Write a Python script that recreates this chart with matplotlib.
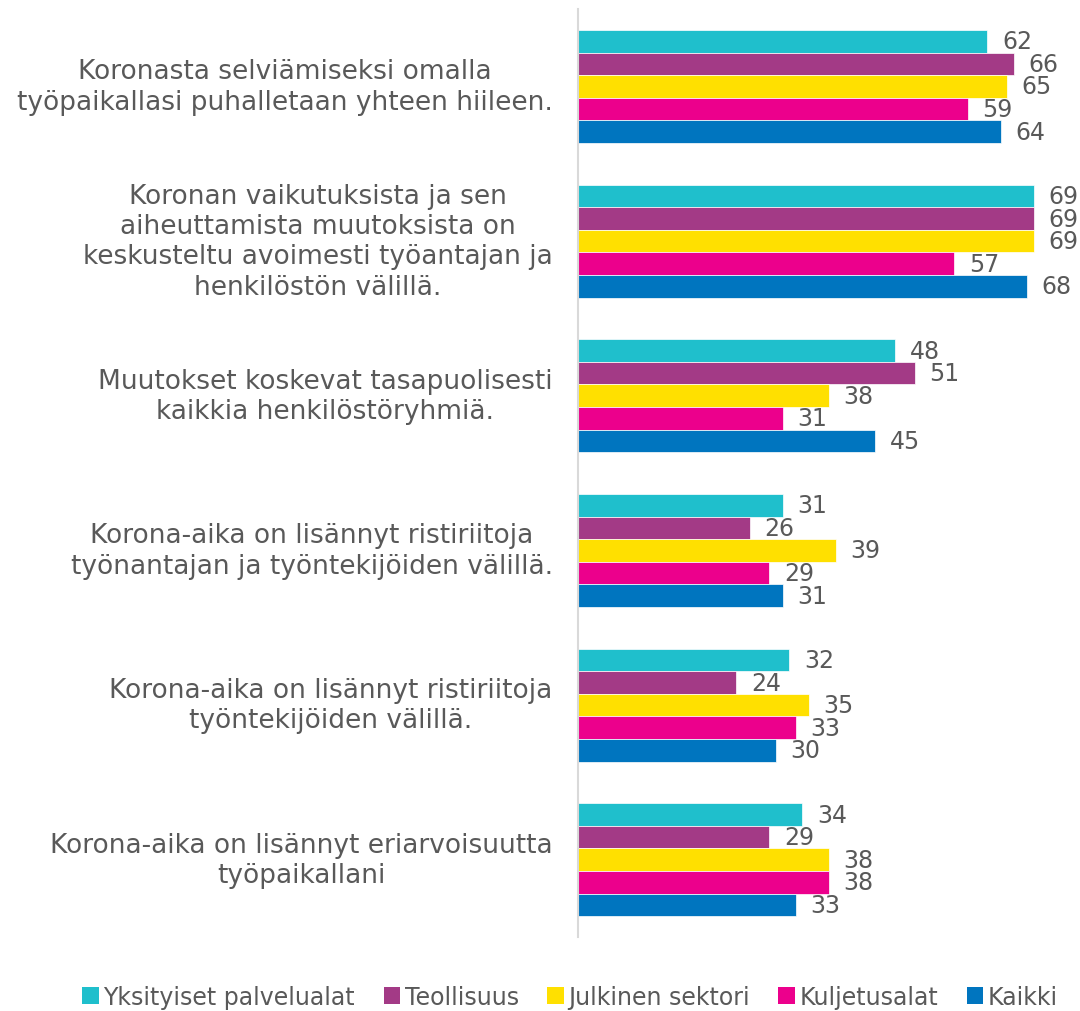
import numpy as np
import matplotlib
matplotlib.use("Agg")
import matplotlib.pyplot as plt
from matplotlib.patches import Patch

categories = [
    "Koronasta selviämiseksi omalla\ntyöpaikallasi puhalletaan yhteen hiileen.",
    "Koronan vaikutuksista ja sen\naiheuttamista muutoksista on\nkeskusteltu avoimesti työantajan ja\nhenkilöstön välillä.",
    "Muutokset koskevat tasapuolisesti\nkaikkia henkilöstöryhmiä.",
    "Korona-aika on lisännyt ristiriitoja\ntyönantajan ja työntekijöiden välillä.",
    "Korona-aika on lisännyt ristiriitoja\ntyöntekijöiden välillä.",
    "Korona-aika on lisännyt eriarvoisuutta\ntyöpaikallani",
]
series = ["Yksityiset palvelualat", "Teollisuus", "Julkinen sektori", "Kuljetusalat", "Kaikki"]
yksityiset = [62, 69, 48, 31, 32, 34]
teollisuus = [66, 69, 51, 26, 24, 29]
julkinen = [65, 69, 38, 39, 35, 38]
kuljetus = [59, 57, 31, 29, 33, 38]
kaikki = [64, 68, 45, 31, 30, 33]
values = [yksityiset, teollisuus, julkinen, kuljetus, kaikki]
colors = ["#1FBFCC", "#A33A86", "#FFE000", "#EC008C", "#0075BF"]

text_color = "#595959"
plt.rcParams["font.family"] = ["DejaVu Sans"]

fig = plt.figure(figsize=(10.8, 10.12), dpi=100)
ax = fig.add_axes([0.535, 0.073, 0.465, 0.917])

n = len(categories)
bar_h = 0.146
y_centers = np.arange(n)
for i, (vals, col) in enumerate(zip(values, colors)):
    ys = y_centers + (i - 2) * bar_h
    ax.barh(ys, vals, height=bar_h, color=col, edgecolor="white", linewidth=0.5)
    for y, v in zip(ys, vals):
        ax.text(v + 2.2, y, str(v), va="center", ha="left", fontsize=17, color=text_color)

for y, lab in zip(y_centers, categories):
    ax.text(-0.05, y, lab, transform=ax.get_yaxis_transform(), ha="right", va="center",
            multialignment="center", fontsize=19, color=text_color, linespacing=1.22)

ax.set_xlim(0, 76)
ax.set_ylim(n - 0.5, -0.5)
ax.set_xticks([])
ax.set_yticks([])
for s in ["top", "right", "bottom"]:
    ax.spines[s].set_visible(False)
ax.spines["left"].set_color("#d9d9d9")
ax.spines["left"].set_linewidth(1.5)

handles = [Patch(facecolor=c, label=s) for c, s in zip(colors, series)]
fig.legend(handles=handles, loc="center", bbox_to_anchor=(0.528, 0.014), ncol=5, frameon=False,
           prop={"family": "DejaVu Sans", "size": 17},
           handlelength=0.7, handleheight=0.7, handletextpad=0.2, columnspacing=1.2,
           labelcolor=text_color)

fig.savefig("out.png", dpi=100)
